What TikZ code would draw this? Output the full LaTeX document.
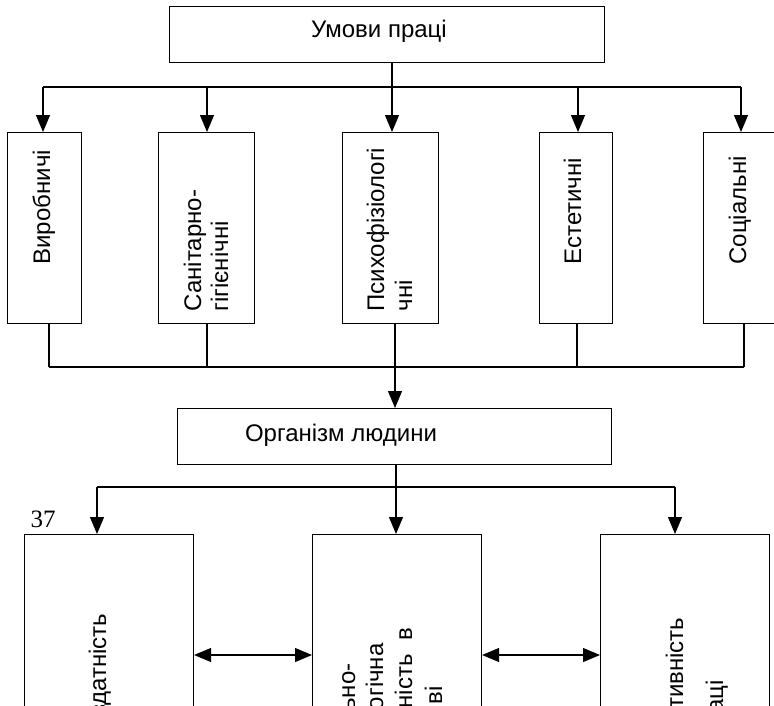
\documentclass[tikz,border=0pt]{standalone}
\usepackage{fontspec}
\setmainfont{Liberation Sans}
\newfontfamily\numfont{Liberation Serif}
\usetikzlibrary{arrows.meta}

\begin{document}
\begin{tikzpicture}[x=1pt, y=-1pt, line width=1.1pt,
  box/.style={draw, line width=1.1pt, inner sep=0pt, anchor=north west},
  txt/.style={inner sep=0pt, font=\fontsize{24}{28}\selectfont},
  vtxt/.style={txt, rotate=90},
  arr/.style={-{Triangle[length=17pt, width=14pt]}},
  darr/.style={{Triangle[length=17pt, width=14pt]}-{Triangle[length=17pt, width=14pt]}}]

\useasboundingbox (0,0) rectangle (774,705);
\clip (0,0) rectangle (774,705);

% top box
\node[box, minimum width=435, minimum height=56] (top) at (169,6) {};
\node[txt, anchor=base] (toptxt) at (379,37) {Умови праці};

% five factor boxes
\node[box, minimum width=74, minimum height=191] (b1) at (7,132) {};
\node[box, minimum width=96, minimum height=191] (b2) at (158,132) {};
\node[box, minimum width=96, minimum height=191] (b3) at (342,132) {};
\node[box, minimum width=73, minimum height=191] (b4) at (539,132) {};
\node[box, minimum width=74, minimum height=191] (b5) at (703,132) {};

\node[vtxt, anchor=base west] (t1) at (50,265) {Виробничі};
\node[vtxt, anchor=base west] (t2a) at (201,312) {Санітарно-};
\node[vtxt, anchor=base west] (t2b) at (228,312) {гігієнічні};
\node[vtxt, anchor=base west] (t3a) at (384,312) {Психофізіологі};
\node[vtxt, anchor=base west] (t3b) at (412,312) {чні};
\node[vtxt, anchor=base west] (t4) at (581,265) {Естетичні};
\node[vtxt, anchor=base west] (t5) at (746,265) {Соціальні};

% distribution bus from the top box
\coordinate (u1) at (43,87);
\coordinate (u2) at (207,87);
\coordinate (u3) at (392,87);
\coordinate (u4) at (578,87);
\coordinate (u5) at (741,87);
\draw (u3 |- top.south) -- (u3);
\draw (u1) -- (u5);
\draw[arr] (u1) -- (u1 |- b1.north);
\draw[arr] (u2) -- (u2 |- b2.north);
\draw[arr] (u3) -- (u3 |- b3.north);
\draw[arr] (u4) -- (u4 |- b4.north);
\draw[arr] (u5) -- (u5 |- b5.north);

% collecting bus into the organism box
\coordinate (v1) at (49,367);
\coordinate (v2) at (207,367);
\coordinate (v3) at (395,367);
\coordinate (v4) at (577,367);
\coordinate (v5) at (744,367);
\draw (v1 |- b1.south) -- (v1);
\draw (v2 |- b2.south) -- (v2);
\draw (v3 |- b3.south) -- (v3);
\draw (v4 |- b4.south) -- (v4);
\draw (v5 |- b5.south) -- (v5);
\draw (v1) -- (v5);

\node[box, minimum width=434, minimum height=56] (org) at (177,408) {};
\node[txt, anchor=base] (orgtxt) at (341,441) {Організм людини};
\draw[arr] (v3) -- (v3 |- org.north);

% lower bus
\coordinate (w1) at (97,487);
\coordinate (w2) at (396,487);
\coordinate (w3) at (675,487);
\draw (w2 |- org.south) -- (w2);
\draw (w1) -- (w3);

\node[box, minimum width=169, minimum height=280] (ba) at (24,534) {};
\node[box, minimum width=169, minimum height=280] (bb) at (312,534) {};
\node[box, minimum width=169, minimum height=280] (bc) at (600,534) {};

\draw[arr] (w1) -- (w1 |- ba.north);
\draw[arr] (w2) -- (w2 |- bb.north);
\draw[arr] (w3) -- (w3 |- bc.north);

\node[anchor=base west, inner sep=0pt, font=\numfont\fontsize{25}{29}\selectfont] (pg) at (30,527) {37};

\node[vtxt, anchor=base east] (ta) at (106,613) {Працездатність};
\node[vtxt, anchor=base east] (tb1) at (355,663) {Соціально-};
\node[vtxt, anchor=base east] (tb2) at (383,643) {психологічна};
\node[vtxt, anchor=base east] (tb3) at (412,627) {активність\hspace{14pt}в};
\node[vtxt, anchor=base east] (tb4) at (442,686) {колективі};
\node[vtxt, anchor=base east] (tc1) at (683,617) {Продуктивність};
\node[vtxt, anchor=base east] (tc2) at (723,680) {праці};

% mutual links between the lower boxes
\coordinate (h) at (0,655);
\draw[darr] (h -| ba.east) -- (h -| bb.west);
\draw[darr] (h -| bb.east) -- (h -| bc.west);

\end{tikzpicture}
\end{document}
